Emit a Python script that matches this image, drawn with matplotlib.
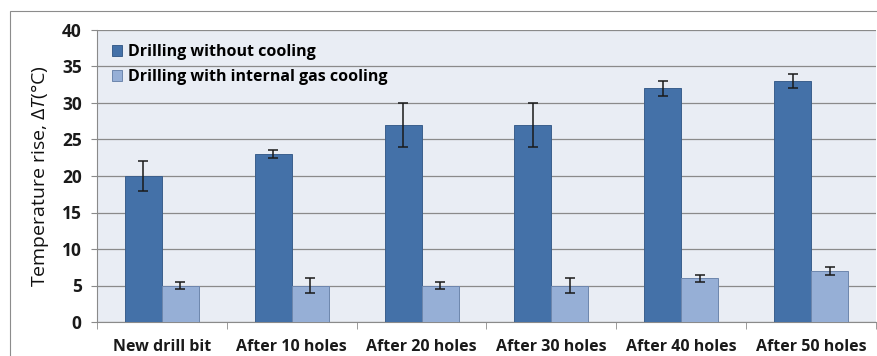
import matplotlib
matplotlib.use("Agg")
import matplotlib.pyplot as plt
import numpy as np
from matplotlib.patches import Rectangle

# Data
categories = ["New drill bit", "After 10 holes", "After 20 holes",
              "After 30 holes", "After 40 holes", "After 50 holes"]
no_cooling = [20, 23, 27, 27, 32, 33]
no_cooling_err = [2, 0.5, 3, 3, 1, 1]
gas_cooling = [5, 5, 5, 5, 6, 7]
gas_cooling_err = [0.5, 1, 0.5, 1, 0.5, 0.5]
series_labels = ["Drilling without cooling", "Drilling with internal gas cooling"]
y_ticks = [0, 5, 10, 15, 20, 25, 30, 35, 40]

plt.rcParams["font.family"] = ["Open Sans", "DejaVu Sans"]
plt.rcParams["mathtext.fontset"] = "custom"
plt.rcParams["mathtext.rm"] = "Open Sans"
plt.rcParams["mathtext.it"] = "Open Sans:italic"

fig = plt.figure(figsize=(8.78, 3.56), dpi=100)
fig.patch.set_facecolor("white")
# outer chart frame
fig.add_artist(Rectangle((10 / 878, -0.1), 1.2, 1 - 11 / 356 + 0.1,
                         transform=fig.transFigure, fill=False,
                         edgecolor="#8c8c8c", linewidth=0.8))

ax = fig.add_axes([97 / 878, 1 - 322 / 356, 779 / 878, 292 / 356])
ax.set_facecolor("#e9edf4")

x = np.arange(len(categories))
w = 0.285
dark = "#4471a8"
light = "#96afd6"
ax.bar(x - w / 2, no_cooling, w, color=dark, edgecolor="#3b5f8c", linewidth=0.7,
       yerr=no_cooling_err, error_kw=dict(ecolor="#1a1a1a", elinewidth=1.1, capsize=3.5, capthick=1.1),
       label=series_labels[0], zorder=3)
ax.bar(x + w / 2, gas_cooling, w, color=light, edgecolor="#6d86ad", linewidth=0.7,
       yerr=gas_cooling_err, error_kw=dict(ecolor="#1a1a1a", elinewidth=1.1, capsize=3.5, capthick=1.1),
       label=series_labels[1], zorder=3)

ax.set_xlim(-0.5, len(categories) - 0.5)
ax.set_ylim(0, 40)
ax.set_yticks(y_ticks)
ax.yaxis.grid(True, color="#8a8a8a", linewidth=0.9, zorder=0)
ax.set_axisbelow(True)

for s in ["top", "right"]:
    ax.spines[s].set_visible(False)
ax.spines["left"].set_color("#8a8a8a")
ax.spines["bottom"].set_color("#8a8a8a")

ax.set_xticks(x)
ax.set_xticklabels(categories, fontsize=11.5, fontweight="bold", color="#1a1a1a")
ax.tick_params(axis="x", length=0, pad=12)
ax.set_xticks(np.arange(len(categories) + 1) - 0.5, minor=True)
ax.tick_params(axis="x", which="minor", length=5, color="#8a8a8a")
ax.tick_params(axis="y", length=4, color="#8a8a8a", labelsize=12.5, pad=7)
for t in ax.get_yticklabels():
    t.set_fontweight("bold")
    t.set_color("#1a1a1a")

ax.set_ylabel(r"Temperature rise, $\mathit{\Delta T}$(°C)", fontsize=14, labelpad=8, color="#111111")

leg = ax.legend(loc="upper left", frameon=False, prop={"weight": "bold", "size": 11.5},
                handlelength=0.65, handleheight=0.65, handletextpad=0.35, labelspacing=0.55,
                borderaxespad=0.3, bbox_to_anchor=(0.005, 0.99))

fig.savefig("out.png", dpi=100, facecolor="white")
